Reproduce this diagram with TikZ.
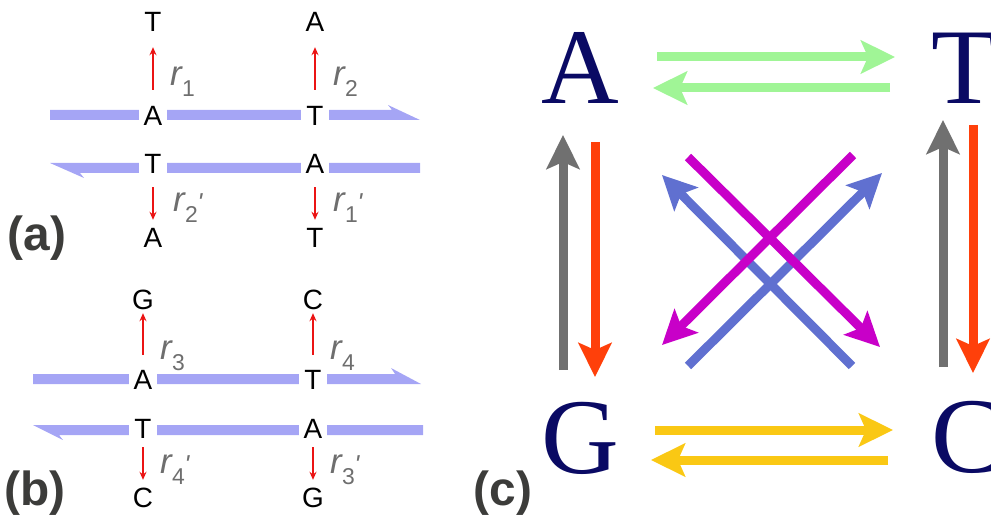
\documentclass[tikz,border=0pt]{standalone}
\usepackage{fontspec}
\setmainfont{Liberation Sans}
\newfontfamily\bigserif{Liberation Serif}
\usetikzlibrary{arrows.meta}
\definecolor{strand}{RGB}{165,165,245}
\definecolor{rarr}{RGB}{235,20,20}
\definecolor{lab}{RGB}{110,110,110}
\definecolor{panel}{RGB}{60,60,58}
\definecolor{navy}{RGB}{10,10,100}
\definecolor{lgreen}{RGB}{160,245,150}
\definecolor{gar}{RGB}{112,112,112}
\definecolor{oar}{RGB}{255,64,10}
\definecolor{mag}{RGB}{200,0,200}
\definecolor{bla}{RGB}{96,112,208}
\definecolor{gold}{RGB}{250,200,20}
\newcommand{\rlab}[2]{{\fontsize{35}{35}\selectfont\itshape r}\kern0.2bp\raisebox{-11bp}{\fontsize{23}{23}\selectfont #1}#2}
\newcommand{\prm}{\kern-0.5bp{\fontsize{26}{26}\selectfont\itshape\textquotesingle}}
\begin{document}
\begin{tikzpicture}[x=1bp,y=-1bp,
  nuc/.style={font=\fontsize{28}{28}\selectfont, text height=20bp, text depth=0bp, inner xsep=5bp, inner ysep=0bp},
  snuc/.style={nuc, fill=white},
  rl/.style={text=lab, anchor=base west, inner sep=0pt},
  redarr/.style={draw=rarr, line width=1.8bp, -{Stealth[length=8bp,width=7bp]}},
  plab/.style={font=\fontsize{48}{48}\selectfont\bfseries, text=panel, inner sep=0pt},
  big/.style={font=\bigserif\fontsize{108}{108}\selectfont, text=navy, inner sep=0pt},
  fat/.style={line width=9bp, -{Stealth[length=34bp,width=33bp,inset=7bp]}}]
\useasboundingbox (0,0) rectangle (991,517);
\clip (0,0) rectangle (991,517);
% ---------- strands
\fill[strand] (50,110) -- (392,110) -- (388,105) -- (420,120) -- (50,120) -- cycle;
\fill[strand] (420,163) -- (50,163) -- (84,178) -- (80,173) -- (420,173) -- cycle;
\fill[strand] (33,374) -- (395,374) -- (391,368) -- (421,384) -- (33,384) -- cycle;
\fill[strand] (423,425) -- (33,425) -- (63,440) -- (59,435) -- (423,435) -- cycle;
% ---------- panel (a)
\node[nuc] (aT1) at (153,22) {T};
\node[nuc] (aA2) at (315,22) {A};
\node[snuc] (aA1) at (153,116) {A};
\node[snuc] (aT2) at (315,116) {T};
\node[snuc] (aT3) at (153,164) {T};
\node[snuc] (aA4) at (315,164) {A};
\node[nuc] (aA3) at (153,237.5) {A};
\node[nuc] (aT4) at (315,237.5) {T};
\draw[redarr, shorten <=16bp, shorten >=15bp] (aA1) -- (aT1);
\draw[redarr, shorten <=16bp, shorten >=15bp] (aT2) -- (aA2);
\draw[redarr, shorten <=13bp, shorten >=7.5bp] (aT3) -- (aA3);
\draw[redarr, shorten <=13bp, shorten >=7.5bp] (aA4) -- (aT4);
\node[rl] (r1) at (170,86) {\rlab{1}{}};
\node[rl] (r2) at (333,86) {\rlab{2}{}};
\node[rl] (r2p) at (173,212) {\rlab{2}{\prm}};
\node[rl] (r1p) at (333,212) {\rlab{1}{\prm}};
\node[plab] (pa) at (37,238) {(a)};
% ---------- panel (b)
\node[nuc] (bG1) at (143,299) {G};
\node[nuc] (bC2) at (313,299) {C};
\node[snuc] (bA1) at (143,379) {A};
\node[snuc] (bT2) at (313,379) {T};
\node[snuc] (bT3) at (143,428) {T};
\node[snuc] (bA4) at (313,428) {A};
\node[nuc] (bC3) at (143,497) {C};
\node[nuc] (bG4) at (313,497) {G};
\draw[redarr, shorten <=14bp, shorten >=4bp] (bA1) -- (bG1);
\draw[redarr, shorten <=14bp, shorten >=4bp] (bT2) -- (bC2);
\draw[redarr, shorten <=9bp, shorten >=7bp] (bT3) -- (bC3);
\draw[redarr, shorten <=9bp, shorten >=7bp] (bA4) -- (bG4);
\node[rl] (r3) at (160,360) {\rlab{3}{}};
\node[rl] (r4) at (330,360) {\rlab{4}{}};
\node[rl] (r4p) at (160,473) {\rlab{4}{\prm}};
\node[rl] (r3p) at (330,473) {\rlab{3}{\prm}};
\node[plab] (pb) at (35,493) {(b)};
% ---------- panel (c)
\node[big] (cA) at (580,68) {A};
\node[big] (cT) at (964,68) {T};
\node[big] (cG) at (580,438) {G};
\node[big] (cC) at (967,437) {C};
\draw[fat, lgreen] (657,57) -- (895,57);
\draw[fat, lgreen] (890,88) -- (653,88);
\draw[fat, gar] (563,370) -- (563,135);
\draw[fat, oar] (595,142) -- (595,377);
\draw[fat, gar] (943,367) -- (943,120);
\draw[fat, oar] (973,125) -- (973,373);
\draw[fat, bla] (852,366) -- (662,175);
\draw[fat, bla] (688,366) -- (882,173);
\draw[fat, mag] (688,157) -- (880,347);
\draw[fat, mag] (853,155) -- (662,345);
\draw[fat, gold] (655,430) -- (893,430);
\draw[fat, gold] (888,460) -- (651,460);
\node[plab] (pc) at (503,493) {(c)};
\end{tikzpicture}
\end{document}
